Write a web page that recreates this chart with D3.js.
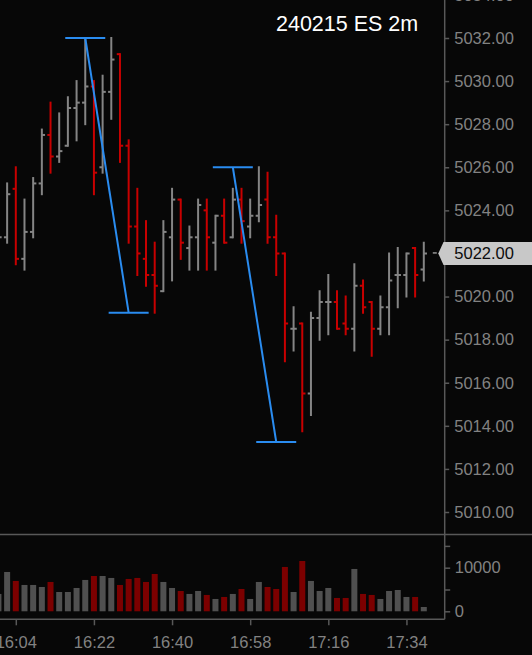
<!DOCTYPE html>
<html>
<head>
<meta charset="utf-8">
<script src="https://cdn.jsdelivr.net/npm/d3@7"></script>
<style>
  html, body { margin: 0; padding: 0; background: #070707; }
  svg { display: block; }
  text { font-family: "Liberation Sans", Arial, sans-serif; }
</style>
</head>
<body>
<svg id="chart" width="532" height="655"></svg>
<script>
var chartTitle = "240215 ES 2m";

var times = ["16:00","16:02","16:04","16:06","16:08","16:10","16:12","16:14","16:16","16:18",
  "16:20","16:22","16:24","16:26","16:28","16:30","16:32","16:34","16:36","16:38",
  "16:40","16:42","16:44","16:46","16:48","16:50","16:52","16:54","16:56","16:58",
  "17:00","17:02","17:04","17:06","17:08","17:10","17:12","17:14","17:16","17:18",
  "17:20","17:22","17:24","17:26","17:28","17:30","17:32","17:34","17:36","17:38"];

var opens = [5022.5,5022.75,5025,5021.75,5023,5025.25,5027.5,5026.5,5027,5028.75,
  5029,5029.75,5026,5029.5,5031.25,5027,5023.25,5021.75,5021,5020.25,
  5022.75,5024.5,5022.25,5022.75,5024,5022.5,5023.75,5022.75,5024.5,5023.25,
  5023.75,5024.5,5022.75,5022,5018.5,5018.75,5015.5,5019,5019.75,5019.75,
  5018.75,5018.5,5020.5,5019.75,5018.5,5019.5,5021,5021,5022.25,5021.25];

var highs = [5023,5025.25,5026,5024.5,5025.5,5027.75,5029,5028.5,5029.25,5030,
  5032,5030,5030.25,5032,5031.25,5027.25,5025,5023.5,5022.5,5023.5,
  5025,5024.5,5023.25,5024.5,5024.5,5023.75,5024.5,5025,5025,5024.5,
  5026,5025.75,5023.75,5022,5019.5,5018.75,5019.25,5020.25,5021,5020.25,
  5020,5021.5,5020.75,5019.75,5020,5022,5022.25,5022,5022.25,5022.5];

var lows = [5022.25,5022.5,5021.5,5021.25,5022.75,5024.75,5025.75,5026.25,5027,5027.25,
  5028,5024.75,5025.75,5028.25,5026.25,5022.5,5021,5020.5,5019.25,5020.25,
  5020.75,5021.75,5021.25,5021.25,5021.25,5021.25,5022.5,5022.75,5022.5,5022.75,
  5023.5,5022.5,5021,5017,5017.5,5013.75,5014.5,5018,5018.25,5018.5,
  5018.25,5017.5,5019.25,5017.25,5018.25,5018.25,5019.5,5020,5020,5020.75];

var closes = [5022.75,5024.75,5021.75,5023,5025.25,5027.5,5026.5,5026.75,5028.75,5029,
  5029.75,5025.75,5029.5,5031,5027,5023.25,5022,5021,5020.5,5023,
  5024.5,5022.5,5022.75,5024.25,5022.75,5023.75,5022.5,5024.5,5023.5,5023.75,
  5024.25,5022.75,5022,5018.75,5018.5,5015.5,5019,5019.75,5019.75,5018.5,
  5018.5,5020.5,5019.5,5018.5,5019.5,5020.75,5021,5022,5021,5022];

var volumes = [3980,9020,6960,6040,6040,5580,6730,4430,4430,5350,
  7190,8100,8100,7650,6040,7420,7650,6730,8560,6730,
  5350,4660,3980,4660,3750,2830,3290,3980,5120,2830,
  6730,5580,5120,10170,4430,11540,6960,4660,5350,3060,
  3060,9710,3980,3750,2830,4660,4890,3290,3290,990];

var timeTicks = ["16:04","16:22","16:40","16:58","17:16","17:34"];
var priceTicks = [5010,5012,5014,5016,5018,5020,5022,5024,5026,5028,5030,5032,5034];
var volumeTicks = [0,5000,10000,15000];
var volumeLabels = [0,10000];
var lastPrice = 5022;

// swing annotations drawn on the chart
var swingStarts = [{t: "16:20", p: 5032}, {t: "16:54", p: 5026}];
var swingEnds = [{t: "16:30", p: 5019.25}, {t: "17:04", p: 5013.25}];

var upColor = "#858585", downColor = "#c80000";
var upVolColor = "#505050", downVolColor = "#7c0000";
var axisColor = "#585858", labelColor = "#828282";

var parseTime = d3.timeParse("%H:%M");
var svg = d3.select("#chart");

var plotRight = 444.7, priceBottom = 534.5, volBottom = 619.3;

var x = d3.scaleTime()
  .domain([parseTime("16:00"), parseTime("17:38")])
  .range([-1.56, 423.8]);
var y = d3.scaleLinear().domain([5010, 5032]).range([512, 38]);
var yVol = d3.scaleLinear().domain([0, 10000]).range([611.3, 567.7]);

var bars = times.map(function(t, i) {
  return {t: parseTime(t), o: opens[i], h: highs[i], l: lows[i], c: closes[i], v: volumes[i]};
});

var defs = svg.append("defs");
defs.append("clipPath").attr("id", "clipPrice")
  .append("rect").attr("x", 0).attr("y", 0).attr("width", plotRight).attr("height", priceBottom);
defs.append("clipPath").attr("id", "clipVol")
  .append("rect").attr("x", 0).attr("y", priceBottom).attr("width", plotRight).attr("height", volBottom - priceBottom);

svg.append("rect").attr("width", 532).attr("height", 655).attr("fill", "#070707");

// price bars
var pricePanel = svg.append("g").attr("clip-path", "url(#clipPrice)");
var bar = pricePanel.selectAll("g.bar")
  .data(bars)
  .enter().append("g")
  .attr("class", "bar")
  .attr("stroke", function(d) { return d.c >= d.o ? upColor : downColor; })
  .attr("stroke-width", 2);

bar.append("line")
  .attr("x1", function(d) { return x(d.t); })
  .attr("x2", function(d) { return x(d.t); })
  .attr("y1", function(d) { return y(d.h) - 1; })
  .attr("y2", function(d) { return y(d.l) + 1; });
bar.append("line")
  .attr("x1", function(d) { return x(d.t) - 3.2; })
  .attr("x2", function(d) { return x(d.t); })
  .attr("y1", function(d) { return y(d.o); })
  .attr("y2", function(d) { return y(d.o); });
bar.append("line")
  .attr("x1", function(d) { return x(d.t); })
  .attr("x2", function(d) { return x(d.t) + 3.2; })
  .attr("y1", function(d) { return y(d.c); })
  .attr("y2", function(d) { return y(d.c); });

// swing lines
var swings = swingStarts.map(function(s, i) {
  return [{x: x(parseTime(s.t)), y: y(s.p)}, {x: x(parseTime(swingEnds[i].t)), y: y(swingEnds[i].p)}];
});
var swingG = pricePanel.selectAll("g.swing")
  .data(swings)
  .enter().append("g")
  .attr("class", "swing")
  .attr("stroke", "#2a8cf0")
  .attr("stroke-width", 2)
  .attr("fill", "none");
swingG.append("line")
  .attr("x1", function(d) { return d[0].x; }).attr("y1", function(d) { return d[0].y; })
  .attr("x2", function(d) { return d[1].x; }).attr("y2", function(d) { return d[1].y; });
swingG.selectAll("line.cap")
  .data(function(d) { return d; })
  .enter().append("line")
  .attr("class", "cap")
  .attr("x1", function(d) { return d.x - 20; })
  .attr("x2", function(d) { return d.x + 20; })
  .attr("y1", function(d) { return d.y; })
  .attr("y2", function(d) { return d.y; });

// last price dash
var lastBar = bars[bars.length - 1];
svg.append("line")
  .attr("x1", x(lastBar.t) + 9).attr("x2", x(lastBar.t) + 13)
  .attr("y1", y(lastPrice) - 0.5).attr("y2", y(lastPrice) - 0.5)
  .attr("stroke", "#d8d8d8").attr("stroke-width", 1);

// volume bars
svg.append("g").attr("clip-path", "url(#clipVol)")
  .selectAll("rect")
  .data(bars)
  .enter().append("rect")
  .attr("x", function(d) { return x(d.t) - 3; })
  .attr("width", 6)
  .attr("y", function(d) { return yVol(d.v); })
  .attr("height", function(d) { return yVol(0) - yVol(d.v); })
  .attr("fill", function(d) { return d.c >= d.o ? upVolColor : downVolColor; });

// frame lines
svg.append("line").attr("x1", 0).attr("x2", 532).attr("y1", priceBottom).attr("y2", priceBottom)
  .attr("stroke", axisColor).attr("stroke-width", 1.5);
svg.append("line").attr("x1", plotRight).attr("x2", plotRight).attr("y1", 0).attr("y2", volBottom)
  .attr("stroke", axisColor).attr("stroke-width", 1.5);
svg.append("line").attr("x1", 0).attr("x2", plotRight).attr("y1", volBottom).attr("y2", volBottom)
  .attr("stroke", axisColor).attr("stroke-width", 1.5);

// axes
function styleAxis(g) {
  g.select(".domain").remove();
  g.selectAll(".tick line").attr("stroke", axisColor).attr("stroke-width", 1.5);
  g.selectAll(".tick text").attr("fill", labelColor).style("font-size", "16.5px");
}

svg.append("g")
  .attr("transform", "translate(" + plotRight + ",0)")
  .call(d3.axisRight(y).tickValues(priceTicks).tickSize(4.5).tickPadding(5).tickFormat(d3.format(".2f")))
  .call(styleAxis);

svg.append("g")
  .attr("transform", "translate(" + plotRight + ",0)")
  .call(d3.axisRight(yVol).tickValues(volumeTicks).tickSize(5.5).tickPadding(4.5)
    .tickFormat(function(d) { return volumeLabels.indexOf(d) >= 0 ? d : ""; }))
  .call(styleAxis);

svg.append("g")
  .attr("transform", "translate(0," + volBottom + ")")
  .call(d3.axisBottom(x).tickValues(timeTicks.map(parseTime)).tickSize(6).tickPadding(10.5)
    .tickFormat(d3.timeFormat("%H:%M")))
  .call(styleAxis);

// last price marker
var ly = y(lastPrice);
svg.append("path")
  .attr("d", "M438.3," + ly + "L443.5," + (ly - 11.5) + "L532," + (ly - 11.5) +
    "L532," + (ly + 11.5) + "L443.5," + (ly + 11.5) + "Z")
  .attr("fill", "#c8c8c8");
svg.append("text")
  .attr("x", 454.3).attr("y", ly).attr("dy", "0.35em")
  .attr("fill", "#0c0c0c").style("font-size", "16.5px")
  .text(d3.format(".2f")(lastPrice));

// title
svg.append("text")
  .attr("x", 276).attr("y", 30.7)
  .attr("fill", "#ffffff").style("font-size", "21.5px")
  .text(chartTitle);
</script>
</body>
</html>
